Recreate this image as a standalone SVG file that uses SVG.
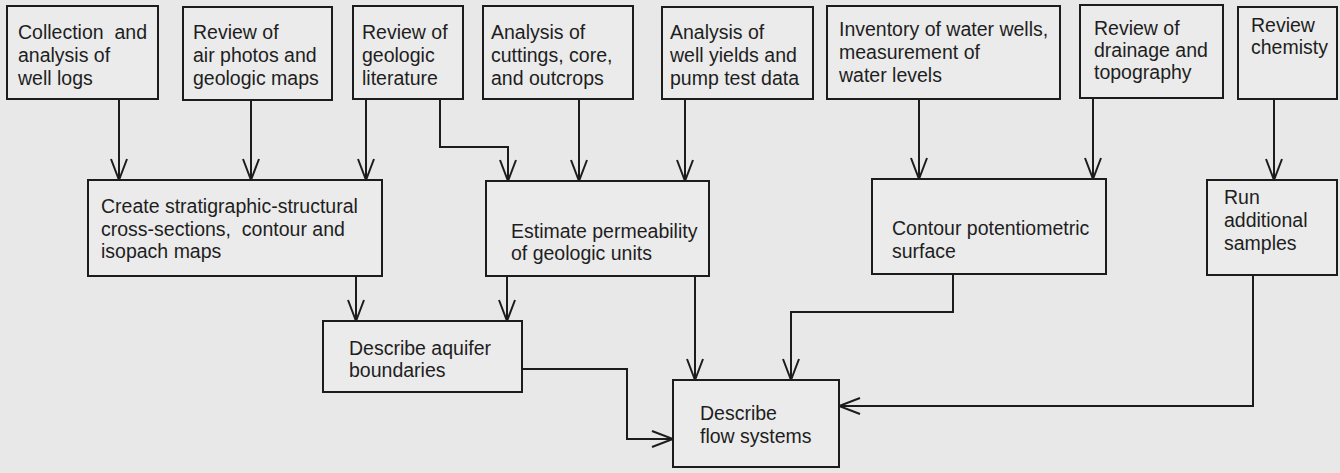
<svg xmlns="http://www.w3.org/2000/svg" width="1340" height="473" viewBox="0 0 1340 473">
<style>
.box{fill:#ebebeb;stroke:#1c1c1c;stroke-width:2}
.t{font-family:"Liberation Sans",Arial,sans-serif;font-size:19.5px;fill:#1e1e1e}
.c{fill:none;stroke:#1c1c1c;stroke-width:2;marker-end:url(#arr)}
</style>
<defs>
<marker id="arr" markerUnits="userSpaceOnUse" viewBox="-24 -10 26 20" refX="0" refY="0" markerWidth="26" markerHeight="20" orient="auto">
<path d="M-21,-8 L0,0 L-21,8" fill="none" stroke="#1c1c1c" stroke-width="2"/>
</marker>
</defs>
<rect width="1340" height="473" fill="#e8e8e8"/>
<g id="connectors">
<path class="c" d="M119,99 V180"/>
<path class="c" d="M251,100 V180"/>
<path class="c" d="M366,99 V180"/>
<path class="c" d="M440,99 V147 H508 V181"/>
<path class="c" d="M579,99 V181"/>
<path class="c" d="M685,99 V181"/>
<path class="c" d="M919,99 V179"/>
<path class="c" d="M1093,98 V179"/>
<path class="c" d="M1274,99 V180"/>
<path class="c" d="M356,276 V321"/>
<path class="c" d="M507,276 V321"/>
<path class="c" d="M695,276 V380"/>
<path class="c" d="M953,274 V312 H791 V380"/>
<path class="c" d="M522,369 H627 V439 H673"/>
<path class="c" d="M1253,275 V406 H839"/>
</g>
<g id="n-collection"><rect class="box" x="7" y="6" width="151" height="93"/><text class="t" xml:space="preserve"><tspan x="18" y="39">Collection  and</tspan><tspan x="18" y="62">analysis of</tspan><tspan x="18" y="85">well logs</tspan></text></g>
<g id="n-airphotos"><rect class="box" x="183" y="7" width="149" height="93"/><text class="t"><tspan x="193" y="39">Review of</tspan><tspan x="193" y="62">air photos and</tspan><tspan x="193" y="85">geologic maps</tspan></text></g>
<g id="n-literature"><rect class="box" x="353" y="6" width="110" height="93"/><text class="t"><tspan x="362" y="39">Review of</tspan><tspan x="362" y="62">geologic</tspan><tspan x="362" y="85">literature</tspan></text></g>
<g id="n-cuttings"><rect class="box" x="483" y="6" width="150" height="93"/><text class="t"><tspan x="491" y="39">Analysis of</tspan><tspan x="491" y="62">cuttings, core,</tspan><tspan x="491" y="85">and outcrops</tspan></text></g>
<g id="n-yields"><rect class="box" x="662" y="7" width="151" height="92"/><text class="t"><tspan x="670" y="39">Analysis of</tspan><tspan x="670" y="62">well yields and</tspan><tspan x="670" y="85">pump test data</tspan></text></g>
<g id="n-inventory"><rect class="box" x="827" y="6" width="233" height="93"/><text class="t"><tspan x="839" y="36">Inventory of water wells,</tspan><tspan x="839" y="59">measurement of</tspan><tspan x="839" y="82">water levels</tspan></text></g>
<g id="n-drainage"><rect class="box" x="1080" y="5" width="143" height="93"/><text class="t"><tspan x="1094" y="35">Review of</tspan><tspan x="1094" y="57">drainage and</tspan><tspan x="1094" y="79">topography</tspan></text></g>
<g id="n-chemistry"><rect class="box" x="1238" y="7" width="99" height="92"/><text class="t"><tspan x="1251" y="32">Review</tspan><tspan x="1251" y="54">chemisty</tspan></text></g>
<g id="n-create"><rect class="box" x="88" y="180" width="294" height="96"/><text class="t" xml:space="preserve"><tspan x="101" y="213">Create stratigraphic-structural</tspan><tspan x="101" y="236">cross-sections,  contour and</tspan><tspan x="101" y="258">isopach maps</tspan></text></g>
<g id="n-estimate"><rect class="box" x="486" y="181" width="223" height="95"/><text class="t"><tspan x="511" y="238">Estimate permeability</tspan><tspan x="511" y="260">of geologic units</tspan></text></g>
<g id="n-contour"><rect class="box" x="872" y="179" width="234" height="95"/><text class="t"><tspan x="892" y="235">Contour potentiometric</tspan><tspan x="892" y="258">surface</tspan></text></g>
<g id="n-run"><rect class="box" x="1207" y="180" width="130" height="95"/><text class="t"><tspan x="1224" y="204">Run</tspan><tspan x="1224" y="227">additional</tspan><tspan x="1224" y="250">samples</tspan></text></g>
<g id="n-aquifer"><rect class="box" x="323" y="321" width="199" height="71"/><text class="t"><tspan x="349" y="355">Describe aquifer</tspan><tspan x="349" y="377">boundaries</tspan></text></g>
<g id="n-flow"><rect class="box" x="673" y="380" width="166" height="87"/><text class="t"><tspan x="700" y="420">Describe</tspan><tspan x="700" y="443">flow systems</tspan></text></g>
</svg>
